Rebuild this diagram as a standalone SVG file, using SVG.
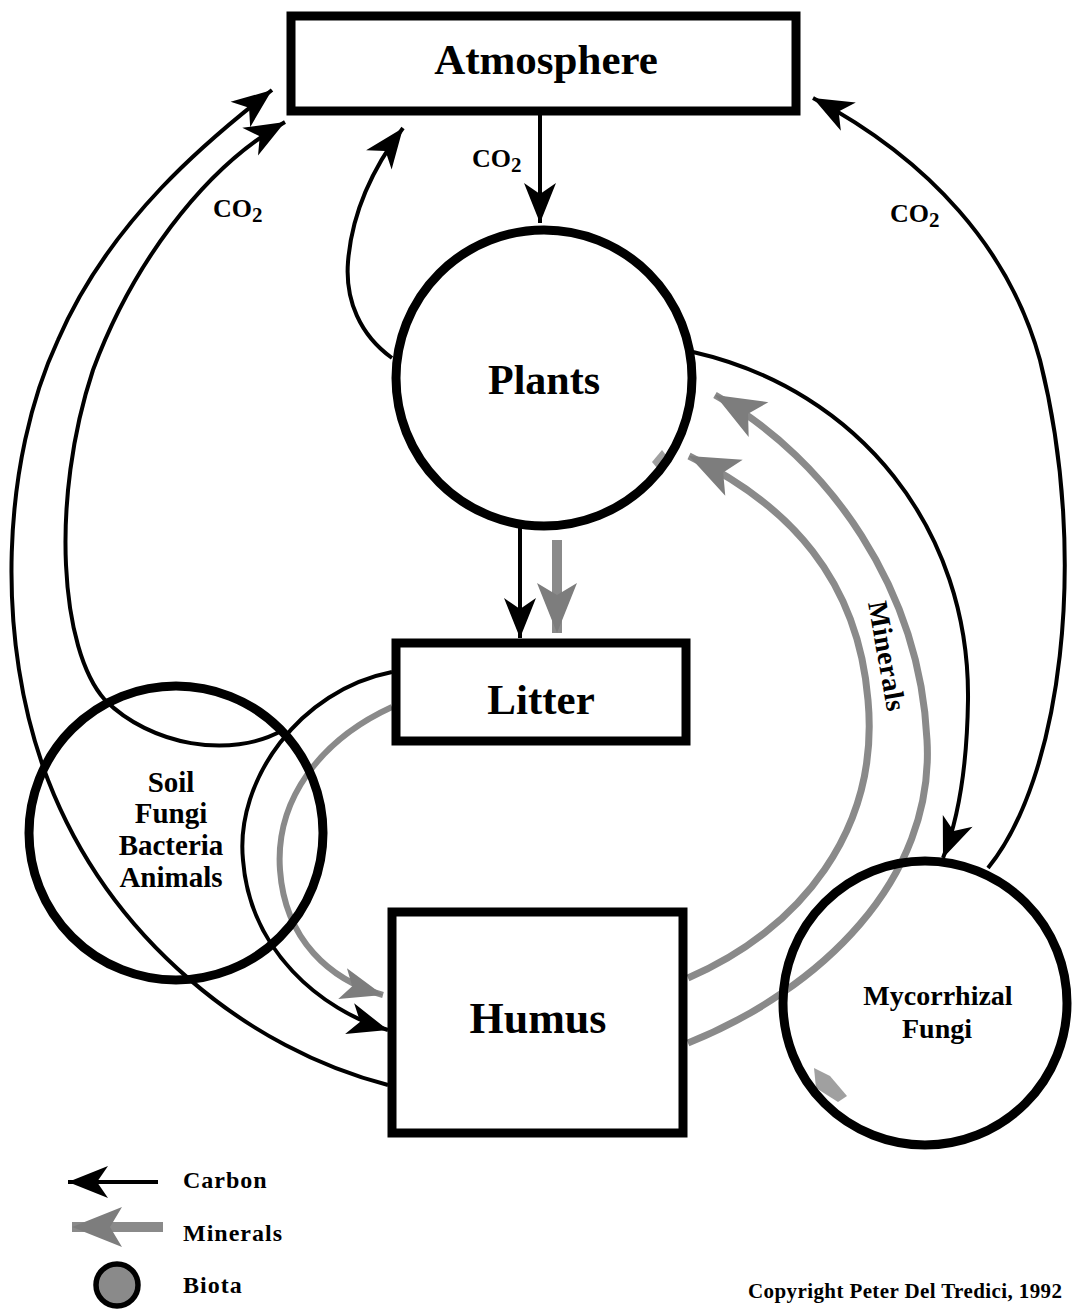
<svg xmlns="http://www.w3.org/2000/svg" width="1079" height="1311" viewBox="0 0 1079 1311">
<defs>
<style>
.box{fill:#fff;stroke:#000;stroke-width:9}
.bio{fill:none;stroke:#000;stroke-width:9}
.c{fill:none;stroke:#000;stroke-width:4}
.m{fill:none;stroke:#8a8a8a;stroke-width:7}
.g{fill:#7d7d7d}
.s{fill:#a0a0a0}
.t{font-family:"Liberation Serif","Times New Roman",serif;font-weight:bold;fill:#000}
.mid{text-anchor:middle}
</style>
<marker id="ah" viewBox="-45 -20 50 40" refX="0" refY="0" markerWidth="50" markerHeight="40" markerUnits="userSpaceOnUse" orient="auto" overflow="visible">
<path d="M0,0 L-40,-16 L-29,0 L-40,16 Z" fill="#000"/>
</marker>
<marker id="gh" viewBox="-55 -25 60 50" refX="0" refY="0" markerWidth="60" markerHeight="50" markerUnits="userSpaceOnUse" orient="auto" overflow="visible">
<path class="g" d="M0,0 L-50,-20 L-38,0 L-50,20 Z"/>
</marker>
<marker id="gh2" viewBox="-55 -25 60 50" refX="0" refY="0" markerWidth="60" markerHeight="50" markerUnits="userSpaceOnUse" orient="auto" overflow="visible">
<path class="g" d="M0,0 L-42,-16 L-32,0 L-42,16 Z"/>
</marker>
</defs>
<rect width="1079" height="1311" fill="#fff"/>

<g id="connectors">
<!-- carbon -->
<path class="c" d="M540 115 L540 223" marker-end="url(#ah)"/>
<path class="c" d="M392 358 C360 335 345 300 348 262 C352 210 375 165 403 128" marker-end="url(#ah)"/>
<path class="c" d="M388 1085 C250 1050 110 940 48 780 C-6 640 2 460 58 340 C110 220 210 138 272 90" marker-end="url(#ah)"/>
<path class="c" d="M283 730 C230 760 150 745 105 700 C60 650 50 500 93 370 C130 270 200 170 285 122" marker-end="url(#ah)"/>
<path class="c" d="M392 672 C300 690 235 780 243 860 C250 950 320 1010 388 1030" marker-end="url(#ah)"/>
<path class="c" d="M520 527 L520 638" marker-end="url(#ah)"/>
<path class="c" d="M693 352 C860 390 970 530 968 700 C967 770 958 820 943 858" marker-end="url(#ah)"/>
<path class="c" d="M988 868 C1060 780 1090 560 1040 360 C1010 250 930 160 813 98" marker-end="url(#ah)"/>
<!-- minerals -->
<path class="m" d="M557 540 L557 633" style="stroke-width:10" marker-end="url(#gh)"/>
<path class="m" d="M392 707 C320 740 275 800 280 870 C285 940 330 980 383 995" style="stroke-width:6" marker-end="url(#gh2)"/>
<path class="m" d="M688 978 C800 930 880 830 868 700 C858 580 790 505 689 456" marker-end="url(#gh)"/>
<path class="m" d="M688 1043 C820 990 935 880 927 740 C920 590 830 460 715 395" marker-end="url(#gh)"/>
<text class="t" font-size="28" transform="translate(868,603) rotate(80)" textLength="111">Minerals</text>
<!-- CO2 labels -->
<text class="t" font-size="26" x="213" y="217">CO<tspan font-size="21" dy="5">2</tspan></text>
<text class="t" font-size="26" x="472" y="167">CO<tspan font-size="21" dy="5">2</tspan></text>
<text class="t" font-size="26" x="890" y="222">CO<tspan font-size="21" dy="5">2</tspan></text>
</g>

<g id="atmosphere">
<rect class="box" x="291" y="16" width="505" height="95"/>
<text class="t mid" font-size="43" x="546" y="74">Atmosphere</text>
</g>

<g id="plants">
<path class="s" d="M652 462 L662 450 L666 455 L657 468 Z"/>
<circle class="bio" cx="544" cy="378" r="148"/>
<text class="t mid" font-size="42" x="544" y="394">Plants</text>
</g>

<g id="litter">
<rect class="box" x="396" y="643" width="290" height="98"/>
<text class="t mid" font-size="43" x="541" y="714">Litter</text>
</g>

<g id="humus">
<rect class="box" x="392" y="912" width="291" height="221"/>
<text class="t mid" font-size="44" x="538" y="1033">Humus</text>
</g>

<g id="soil-biota">
<circle class="bio" cx="176" cy="833" r="147"/>
<text class="t mid" font-size="29" x="171" y="792">Soil</text>
<text class="t mid" font-size="29" x="171" y="823">Fungi</text>
<text class="t mid" font-size="29" x="171" y="855">Bacteria</text>
<text class="t mid" font-size="29" x="171" y="887">Animals</text>
</g>

<g id="mycorrhizal-fungi">
<path class="s" d="M814 1068 L830 1076 L847 1096 L838 1102 L816 1088 Z"/>
<circle class="bio" cx="925" cy="1003" r="142"/>
<text class="t mid" font-size="28" x="938" y="1005">Mycorrhizal</text>
<text class="t mid" font-size="28" x="937" y="1038">Fungi</text>
</g>

<g id="legend">
<path class="c" d="M158 1182 L68 1182" marker-end="url(#ah)"/>
<text class="t" font-size="24" letter-spacing="1" x="183" y="1188">Carbon</text>
<path class="m" d="M163 1227 L72 1227" style="stroke-width:10" marker-end="url(#gh)"/>
<text class="t" font-size="24" letter-spacing="1" x="183" y="1241">Minerals</text>
<circle cx="117" cy="1285" r="21" fill="#8a8a8a" stroke="#000" stroke-width="5.5"/>
<text class="t" font-size="24" letter-spacing="1" x="183" y="1293">Biota</text>
</g>

<text class="t" font-size="21" letter-spacing="0.4" x="748" y="1298">Copyright Peter Del Tredici, 1992</text>
</svg>
